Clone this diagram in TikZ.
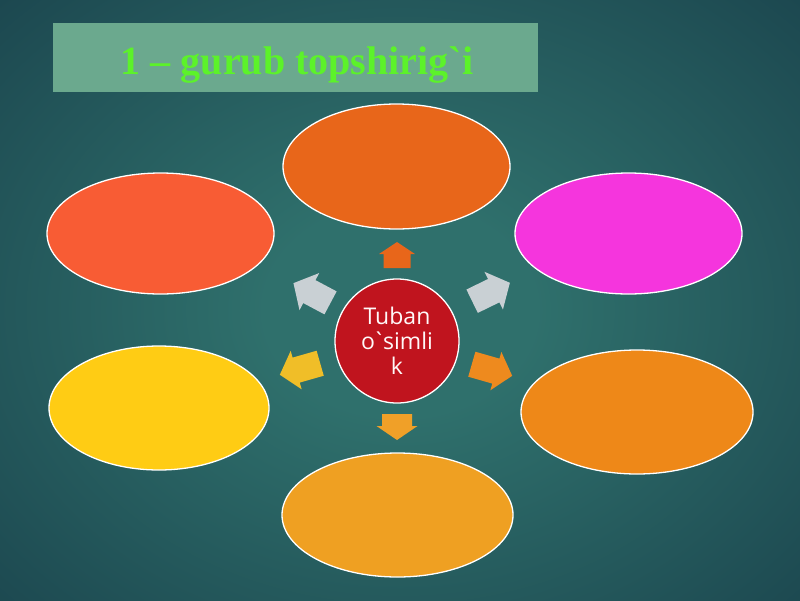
\documentclass[tikz,border=0pt]{standalone}
\usepackage{fontspec}
\setmainfont{Liberation Serif}
\newfontfamily\titlefont{Liberation Serif}[Ligatures=TeXOff]
\newfontfamily\ctrfont{Open Sans}[Ligatures=TeXOff]
\usetikzlibrary{shapes.geometric}
\definecolor{bgin}{HTML}{2F706C}
\definecolor{bgout}{HTML}{133442}
\definecolor{titlebg}{HTML}{6BA98E}
\definecolor{titletxt}{HTML}{5CF22A}
\definecolor{cTop}{HTML}{E8661A}
\definecolor{cUL}{HTML}{F85C34}
\definecolor{cUR}{HTML}{F535DD}
\definecolor{cLL}{HTML}{FFCC14}
\definecolor{cLR}{HTML}{EE8818}
\definecolor{cBot}{HTML}{EFA022}
\definecolor{cCtr}{HTML}{C0141E}
\definecolor{cGray}{HTML}{C9D0D4}
\definecolor{cYArr}{HTML}{F0BE28}
\definecolor{cRArr}{HTML}{EE8A1E}
\definecolor{cBArr}{HTML}{F0A028}
\pgfdeclareradialshading{bgrad}{\pgfpoint{0bp}{0bp}}{color(0bp)=(bgin); color(8bp)=(bgin); color(46bp)=(bgout); color(100bp)=(bgout)}
% #1 position, #2 angle, #3 length, #4 shaft half width, #5 head half width, #6 head length, #7 colour
\newcommand\radarrow[7]{%
  \fill[#7, shift={(#1)}, rotate=#2]
    ({-#3/2},{-#4}) -- ({#3/2-#6},{-#4}) -- ({#3/2-#6},{-#5}) -- ({#3/2},0)
    -- ({#3/2-#6},{#5}) -- ({#3/2-#6},{#4}) -- ({-#3/2},{#4}) -- cycle;}
\begin{document}
\begin{tikzpicture}[x=1pt,y=-1pt,
  bubble/.style={ellipse, draw=white, line width=1.3pt, inner sep=0pt},
  hub/.style={circle, draw=white, line width=1.3pt, fill=cCtr, minimum size=124pt, inner sep=0pt,
    text=white!90!pink, align=center, font=\ctrfont\fontsize{23}{25}\selectfont}]
\useasboundingbox (0,0) rectangle (800,600);
\shade[shading=bgrad] (-20,-20) rectangle (820,640);
% title
\node[fill=titlebg, minimum width=485pt, minimum height=69pt, inner sep=0pt] (titlebox) at (295.5,57.5) {};
\node[text=titletxt, font=\titlefont\bfseries\fontsize{40}{46}\selectfont, inner sep=0pt, anchor=base] (title) at (297,74) {1 – gurub topshirig`i};
% ellipses
\node[bubble, fill=cTop, minimum width=227pt, minimum height=125pt] (eTop) at (396.5,166.5) {};
\node[bubble, fill=cUL, minimum width=227pt, minimum height=121pt] (eUL) at (160.5,233.5) {};
\node[bubble, fill=cUR, minimum width=227pt, minimum height=121pt] (eUR) at (628.5,233.5) {};
\node[bubble, fill=cLL, minimum width=220pt, minimum height=124pt] (eLL) at (159,408) {};
\node[bubble, fill=cLR, minimum width=232pt, minimum height=124pt] (eLR) at (637,412) {};
\node[bubble, fill=cBot, minimum width=231pt, minimum height=124pt] (eBot) at (397.5,515) {};
% hub
\node[hub] (hub) at (397,341) {Tuban\\o\kern-2.5pt`\kern-2.5pt simli\\k};
% arrows
\radarrow{397,255}{90}{26}{13.5}{18}{12}{cTop}
\radarrow{312,293}{152}{42}{13}{21}{18}{cGray}
\radarrow{491,292}{26}{42}{13}{21}{18}{cGray}
\radarrow{300,369}{196}{42}{13}{20}{17}{cYArr}
\radarrow{492,370}{-16}{42}{13}{20}{17}{cRArr}
\radarrow{397,427}{-90}{26}{15}{20.5}{14}{cBArr}
\end{tikzpicture}
\end{document}
